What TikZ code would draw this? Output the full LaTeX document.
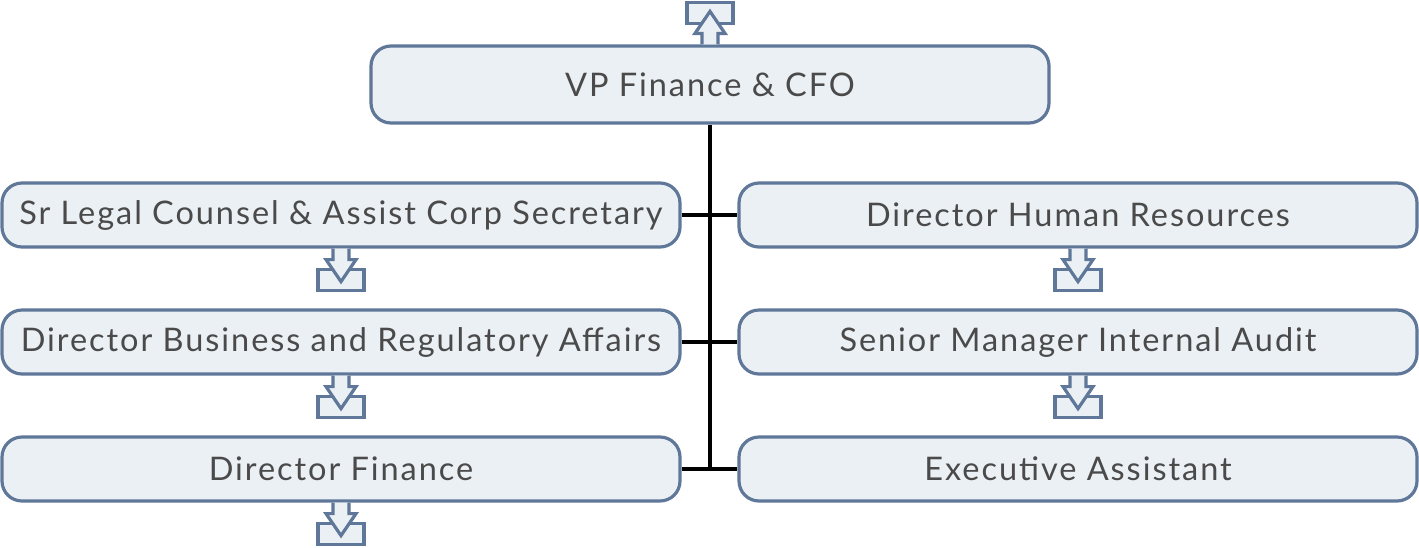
\documentclass[tikz,border=0pt]{standalone}
\usepackage{fontspec}
\setmainfont{Lato}[LetterSpace=6]
\usetikzlibrary{positioning,calc}
\definecolor{boxfill}{HTML}{EBF0F4}
\definecolor{boxline}{HTML}{5F7798}
\definecolor{boxtext}{HTML}{4A4A4A}
\tikzset{
  unit/.style = {draw = boxline, fill = boxfill, line width = 3.2pt, rounded corners = 20pt,
    minimum width = 678pt, minimum height = 64pt, text = boxtext, font = \fontsize{32.5}{38}\selectfont},
  link/.style = {draw, line width = 3.2pt},
  subunits/.pic = {
    \path[draw = boxline, fill = boxfill, line width = 3.2pt](-23,21)rectangle(23,42);
    \path[draw = boxline, fill = boxfill, line width = 3.2pt, line join = miter]
      (-8,0)--(-8,11)--(-15,11)--(0,33)--(15,11)--(8,11)--(8,0);
  }
}
\begin{document}
\begin{tikzpicture}[x = 1pt, y = -1pt]
        \useasboundingbox(0,0)rectangle(1419,547);
        % boxes
        \node[unit, minimum height = 77pt](cfo)at(710,84.5){VP Finance \& CFO};
        \node[unit](legal)at(341,215){Sr Legal Counsel \& Assist Corp Secretary};
        \node[unit](bra)at(341,342){Director Business and Regulatory Affairs};
        \node[unit](fin)at(341,469){Director Finance};
        \node[unit](hr)at(1078,215){Director Human Resources};
        \node[unit](audit)at(1078,342){Senior Manager Internal Audit};
        \node[unit](ea)at(1078,469){Executive Assistant};
        % connectors
        \coordinate(trunk)at(cfo.south |- fin.east);
        \path[link](cfo.south)to(trunk);
        \path[link](legal.east)to(hr.west);
        \path[link](bra.east)to(audit.west);
        \path[link](fin.east)to(ea.west);
        % sub-unit icons
        \pic at (cfo.north)[yscale = -1]{subunits};
        \pic at (legal.south){subunits};
        \pic at (bra.south){subunits};
        \pic at (fin.south){subunits};
        \pic at (hr.south){subunits};
        \pic at (audit.south){subunits};
    \end{tikzpicture}
\end{document}
